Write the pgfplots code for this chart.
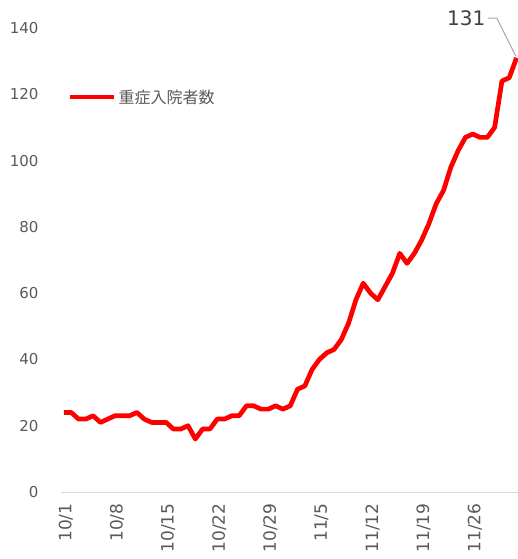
\documentclass[border=0pt]{standalone}
\usepackage{pgfplots}
\pgfplotsset{compat=1.18}
\usepackage{fontspec}
\setmainfont{DejaVu Sans}
\newfontfamily\cjk{Noto Sans CJK JP}
\definecolor{tickc}{HTML}{595959}
\definecolor{ann}{HTML}{404040}
\definecolor{lead}{HTML}{A6A6A6}
\begin{document}
\begin{tikzpicture}
\begin{axis}[
 name=ax,
 scale only axis, width=457bp, height=464bp,
 xmin=-0.4, xmax=62.2, ymin=0, ymax=140,
 ytick={0,20,...,140},
 xtick={0,7,...,56},
 xticklabels={10/1,10/8,10/15,10/22,10/29,11/5,11/12,11/19,11/26},
 axis x line*=bottom, axis y line*=left,
 y axis line style={draw=none},
 x axis line style={draw=black!15, line width=1bp, -},
 major tick length=0pt,
 tick label style={font=\fontsize{15bp}{18bp}\selectfont, text=tickc},
 /pgf/number format/assume math mode=true,
 xticklabel style={rotate=90, anchor=east, xshift=-8bp, yshift=-2bp, font=\fontsize{17bp}{20bp}\selectfont},
 yticklabel style={xshift=-19bp},
 clip=false,
 legend style={at={(0.015,0.851)}, anchor=west, draw=none, fill=none,
   font=\cjk\fontsize{16bp}{19bp}\selectfont, text=tickc, inner xsep=0pt, inner ysep=0pt},
 legend cell align=left,
 legend image code/.code={\draw[#1, line width=4.5bp] (0bp,0bp) -- (44bp,0bp);},
]
\addplot[color=red, line width=4.7bp, line join=round, no marks] coordinates {
(0,24)(1,24)(2,22)(3,22)(4,23)(5,21)(6,22)(7,23)(8,23)(9,23)
(10,24)(11,22)(12,21)(13,21)(14,21)(15,19)(16,19)(17,20)(18,16)(19,19)
(20,19)(21,22)(22,22)(23,23)(24,23)(25,26)(26,26)(27,25)(28,25)(29,26)
(30,25)(31,26)(32,31)(33,32)(34,37)(35,40)(36,42)(37,43)(38,46)(39,51)
(40,58)(41,63)(42,60)(43,58)(44,62)(45,66)(46,72)(47,69)(48,72)(49,76)
(50,81)(51,87)(52,91)(53,98)(54,103)(55,107)(56,108)(57,107)(58,107)(59,110)
(60,124)(61,125)(62,131)
};
\addlegendentry{重症入院者数}
\coordinate (sw) at (rel axis cs:0,0);
\node[font=\fontsize{20bp}{24bp}\selectfont, text=ann] at (axis cs:55.1,143) {131};
\draw[lead, line width=1bp] (axis cs:58.1,143) -- (axis cs:59.3,143) -- (axis cs:61.9,131.5);
\end{axis}
\pgfresetboundingbox
\path ([xshift=-61bp,yshift=-67bp]sw) rectangle ([xshift=457bp,yshift=492bp]sw);
\end{tikzpicture}
\end{document}
